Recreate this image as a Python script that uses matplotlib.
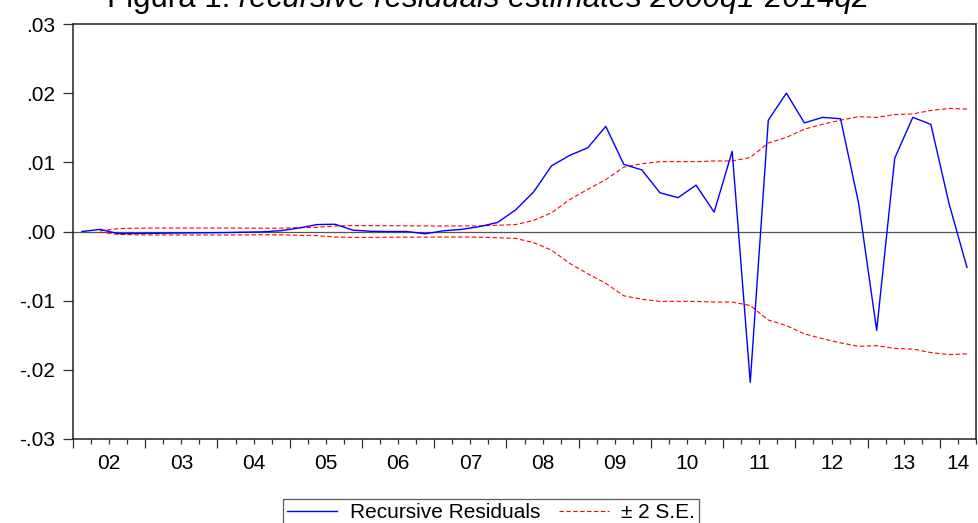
import numpy as np
import matplotlib
matplotlib.use("Agg")
import matplotlib.pyplot as plt
from matplotlib.lines import Line2D

plt.rcParams["font.family"] = ["Liberation Sans", "DejaVu Sans"]

# Quarterly observations 2002Q1 .. 2014Q2
quarters = [f"{y}Q{q}" for y in range(2002, 2015) for q in range(1, 5)][:50]

residuals = [
    0.0, 0.0003, -0.0003, -0.00028, -0.00026, -0.00023, -0.0002, -0.00018,
    -0.00015, -0.0001, -0.00005, 0.00012, 0.0005, 0.001, 0.00105, 0.0002,
    0.00003, 0.0, 0.0, -0.00034, 0.0001, 0.0003, 0.0007, 0.0013,
    0.0031, 0.0057, 0.0095, 0.0110, 0.0121, 0.0152, 0.0097, 0.0089,
    0.0056, 0.0049, 0.0067, 0.0028, 0.0116, -0.0218, 0.0161, 0.0200,
    0.0157, 0.0165, 0.0163, 0.0041, -0.0143, 0.0106, 0.0165, 0.0155,
    0.0041, -0.0052,
]

two_se = [
    np.nan, 0.0001, 0.00042, 0.00048, 0.0005, 0.0005, 0.0005, 0.0005,
    0.0005, 0.00049, 0.00048, 0.00048, 0.00055, 0.0006, 0.0008, 0.00085,
    0.00085, 0.00083, 0.00082, 0.00081, 0.0008, 0.0008, 0.00082, 0.0009,
    0.001, 0.0016, 0.0027, 0.0046, 0.0061, 0.0075, 0.0093, 0.0098,
    0.0101, 0.0101, 0.0101, 0.0102, 0.0102, 0.0107, 0.0128, 0.0136,
    0.0148, 0.0155, 0.0161, 0.0166, 0.0165, 0.0169, 0.0170, 0.0175,
    0.0178, 0.0177,
]

year_labels = ["02", "03", "04", "05", "06", "07", "08", "09", "10", "11", "12", "13", "14"]
y_ticks = [0.03, 0.02, 0.01, 0.0, -0.01, -0.02, -0.03]
y_tick_labels = [".03", ".02", ".01", ".00", "-.01", "-.02", "-.03"]

n = len(quarters)
x = np.arange(n) + 0.5
res = np.array(residuals)
se = np.array(two_se)

fig = plt.figure(figsize=(9.79, 5.23), dpi=100)
W, H = 979, 523
ax = fig.add_axes([73 / W, (H - 439) / H, (976 - 73) / W, (439 - 24) / H])

dash = (0, (4, 2.2))
ax.axhline(0, color="#555555", lw=0.9, zorder=1)
ax.plot(x, se, color="#ff0000", lw=0.8, ls=dash, zorder=2)
ax.plot(x, -se, color="#ff0000", lw=0.8, ls=dash, zorder=2)
ax.plot(x, res, color="#0000ff", lw=1.0, zorder=3)

ax.set_xlim(0, n)
ax.set_ylim(-0.03, 0.03)

tick_fs = 15

# y axis
ax.set_yticks(y_ticks)
ax.set_yticklabels(y_tick_labels, fontsize=tick_fs)
ax.tick_params(axis="y", direction="out", length=7, width=0.9, pad=6,
               colors="#333333", labelcolor="black")

# x axis: year boundaries (major) and quarters (minor)
ax.set_xticks(np.arange(0, n + 1, 4))
ax.set_xticks(np.arange(0, n + 1, 1), minor=True)
ax.set_xticklabels([])
ax.tick_params(axis="x", which="major", direction="out", length=6.5, width=0.9, colors="#333333")
ax.tick_params(axis="x", which="minor", direction="out", length=3.6, width=0.9, colors="#333333")

label_pos = [4 * k + 2 for k in range(len(year_labels) - 1)] + [(48 + n) / 2]
for pos, lab in zip(label_pos, year_labels):
    ax.text(pos, -0.035, lab, transform=ax.get_xaxis_transform(),
            ha="center", va="top", fontsize=tick_fs)

for s in ax.spines.values():
    s.set_linewidth(1.1)
    s.set_color("#222222")

# title: plain prefix followed by italic description
title_y = 1 - 7.5 / H
t1 = fig.text(107 / W, title_y, "Figura 1: ", fontsize=22.5, ha="left", va="baseline")
fig.canvas.draw()
bb = t1.get_window_extent()
fig.text(bb.x1 / W, title_y, "recursive residuals estimates 2000q1-2014q2",
         fontsize=22.5, ha="left", va="baseline", style="italic")

handles = [
    Line2D([], [], color="#0000ff", lw=1.0),
    Line2D([], [], color="#ff0000", lw=0.8, ls=dash),
]
leg = fig.legend(handles, ["Recursive Residuals", "\u00b1 2 S.E."],
                 loc="upper left", bbox_to_anchor=(283 / W, 1 - 499 / H),
                 ncol=2, fontsize=15, frameon=True, fancybox=False,
                 handlelength=2.4, handletextpad=0.6, columnspacing=0.9,
                 borderpad=0.2, borderaxespad=0)
leg.get_frame().set_edgecolor("#333333")
leg.get_frame().set_linewidth(0.9)

fig.savefig("out.png", dpi=100)
